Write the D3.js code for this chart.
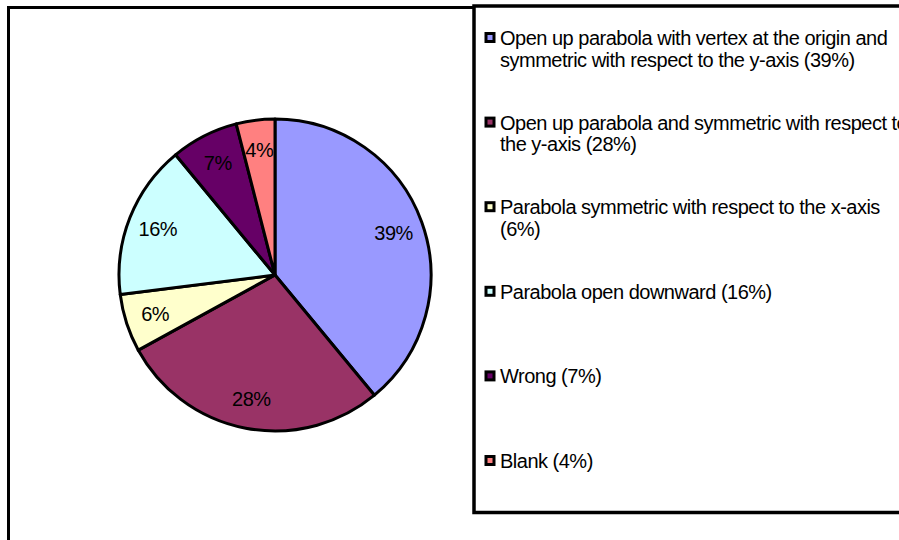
<!DOCTYPE html>
<html>
<head>
<meta charset="utf-8">
<script src="https://cdn.jsdelivr.net/npm/d3@7/dist/d3.min.js"></script>
<style>
  html, body { margin: 0; padding: 0; background: #fff; }
  svg { display: block; font-family: "Liberation Sans", Arial, sans-serif; }
</style>
</head>
<body>
<svg id="chart" width="899" height="540"></svg>
<script>
// Answer categories and their share of responses (percent)
const categories = [
  "Open up parabola with vertex at the origin and symmetric with respect to the y-axis",
  "Open up parabola and symmetric with respect to the y-axis",
  "Parabola symmetric with respect to the x-axis",
  "Parabola open downward",
  "Wrong",
  "Blank"
];
const percents = [39, 28, 6, 16, 7, 4];
const colors = ["#9999FF", "#993366", "#FFFFCC", "#CCFFFF", "#660066", "#FF8080"];
// Legend text, broken into the lines it wraps to
const legendLines = [
  ["Open up parabola with vertex at the origin and", "symmetric with respect to the y-axis (39%)"],
  ["Open up parabola and symmetric with respect to", "the y-axis (28%)"],
  ["Parabola symmetric with respect to the x-axis", "(6%)"],
  ["Parabola open downward (16%)"],
  ["Wrong (7%)"],
  ["Blank (4%)"]
];

const svg = d3.select("#chart");
const data = categories.map((c, i) => ({ name: c, value: percents[i], color: colors[i], lines: legendLines[i] }));

// Outer chart frame (right and bottom edges run off the page)
svg.append("rect")
  .attr("x", 8.5).attr("y", 7.5)
  .attr("width", 1000).attr("height", 1000)
  .attr("fill", "#fff").attr("stroke", "#000").attr("stroke-width", 3);

// Pie
const cx = 275, cy = 275, radius = 156;
const pie = d3.pie().value(d => d.value).sort(null);
const arc = d3.arc().innerRadius(0).outerRadius(radius);
const labelArc = d3.arc().innerRadius(126).outerRadius(126);
const arcs = pie(data);

const g = svg.append("g").attr("transform", `translate(${cx},${cy})`);
g.selectAll("path.slice")
  .data(arcs)
  .join("path")
  .attr("class", "slice")
  .attr("d", arc)
  .attr("fill", d => d.data.color)
  .attr("stroke", "#000")
  .attr("stroke-width", 3)
  .attr("stroke-linejoin", "round");

g.selectAll("text.pct")
  .data(arcs)
  .join("text")
  .attr("class", "pct")
  .attr("transform", d => `translate(${labelArc.centroid(d)})`)
  .attr("text-anchor", "middle")
  .attr("dy", "0.36em")
  .attr("font-size", 20)
  .attr("letter-spacing", -0.5)
  .attr("fill", "#000")
  .text(d => d3.format(".0%")(d.data.value / 100));

// Legend box
svg.append("rect")
  .attr("x", 474).attr("y", 6)
  .attr("width", 1000).attr("height", 506.5)
  .attr("fill", "#fff").attr("stroke", "#000").attr("stroke-width", 3.5);

const legendY = d3.scalePoint().domain(d3.range(data.length)).range([45, 468]);
const items = svg.append("g").selectAll("g.item")
  .data(data)
  .join("g")
  .attr("class", "item")
  .attr("transform", (d, i) => `translate(0,${legendY(i)})`);

items.append("rect")
  .attr("x", 486).attr("y", -11.5)
  .attr("width", 8).attr("height", 8)
  .attr("fill", d => d.color)
  .attr("stroke", "#000").attr("stroke-width", 3);

items.append("text")
  .attr("x", 500)
  .attr("font-size", 20)
  .attr("letter-spacing", -0.5)
  .attr("fill", "#000")
  .selectAll("tspan")
  .data(d => d.lines)
  .join("tspan")
  .attr("x", 500)
  .attr("dy", (d, i) => i === 0 ? 0 : 21.5)
  .text(d => d);
</script>
</body>
</html>
